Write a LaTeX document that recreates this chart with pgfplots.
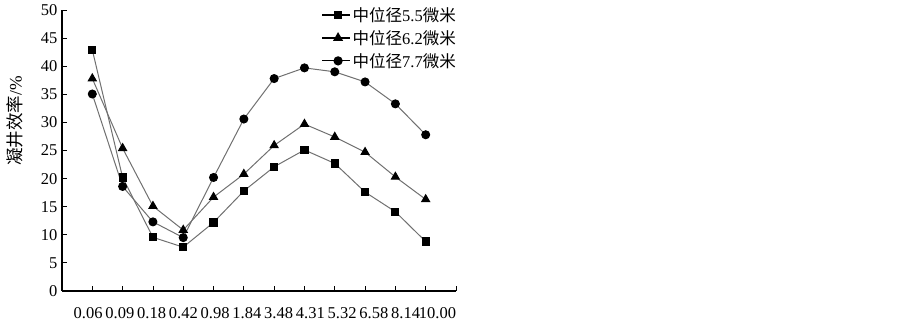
\documentclass[border=0pt]{standalone}
\usepackage{pgfplots}
\pgfplotsset{compat=1.18}
\usepackage{fontspec}
\setmainfont{Liberation Serif}
\newfontfamily\cjk{Noto Sans CJK SC}
\definecolor{lg}{HTML}{707070}
\begin{document}
\begin{tikzpicture}[x=1pt,y=1pt]
\useasboundingbox (0,0) rectangle (903,323);
\begin{axis}[
  at={(62pt,32pt)}, anchor=south west,
  scale only axis, width=394pt, height=281pt,
  xmin=0, xmax=13, ymin=0, ymax=50,
  axis x line*=bottom, axis y line*=left,
  axis line style={-, line width=1.2pt, black},
  xtick={1,...,13},
  xticklabels={0.06,0.09,0.18,0.42,0.98,1.84,3.48,4.31,5.32,6.58,8.14,10.00,{}},
  ytick={0,5,...,50},
  tick align=inside, major tick length=5pt,
  tick style={black, line width=0.8pt},
  ticklabel style={font=\fontsize{16.5}{19}\selectfont},
  xticklabel style={yshift=-13pt, xshift={(-4.2+1.45*\ticknum)*1pt}},
  yticklabel style={xshift=-1pt},
  /pgf/number format/assume math mode=true,
  ylabel={{\cjk 凝井效率}/\%},
  ylabel style={at={(axis description cs:-0.119,0.605)}, anchor=center, font=\fontsize{17.5}{19}\selectfont},
  legend style={at={(1,1)}, anchor=north east, yshift=5pt, xshift=2pt, draw=none, fill=none,
    font=\fontsize{16.5}{18}\selectfont, row sep=3.5pt, inner sep=0pt},
  legend cell align=left,
  legend image code/.code={\draw[mark repeat=2,mark phase=2,line width=1.2pt,black] plot coordinates {(0pt,0pt) (16pt,0pt) (28pt,0pt)};},
  every axis plot/.append style={lg, line width=1pt, mark options={black, fill=black, solid}},
]
\addplot[mark=square*, mark size=3.6pt] coordinates {
(1,42.9) (2,20.2) (3,9.55) (4,7.8) (5,12.2) (6,17.8) (7,22.1) (8,25.1) (9,22.7) (10,17.6) (11,14.1) (12,8.8)};
\addlegendentry{{\cjk 中位径}5.5{\cjk 微米}}
\addplot[mark=triangle*, mark size=4.6pt] coordinates {
(1,37.8) (2,25.4) (3,15.1) (4,10.85) (5,16.7) (6,20.8) (7,25.9) (8,29.7) (9,27.4) (10,24.7) (11,20.3) (12,16.3)};
\addlegendentry{{\cjk 中位径}6.2{\cjk 微米}}
\addplot[mark=*, mark size=4pt] coordinates {
(1,35.05) (2,18.6) (3,12.3) (4,9.5) (5,20.2) (6,30.6) (7,37.8) (8,39.7) (9,39.0) (10,37.2) (11,33.3) (12,27.8)};
\addlegendentry{{\cjk 中位径}7.7{\cjk 微米}}
\end{axis}
\end{tikzpicture}
\end{document}
